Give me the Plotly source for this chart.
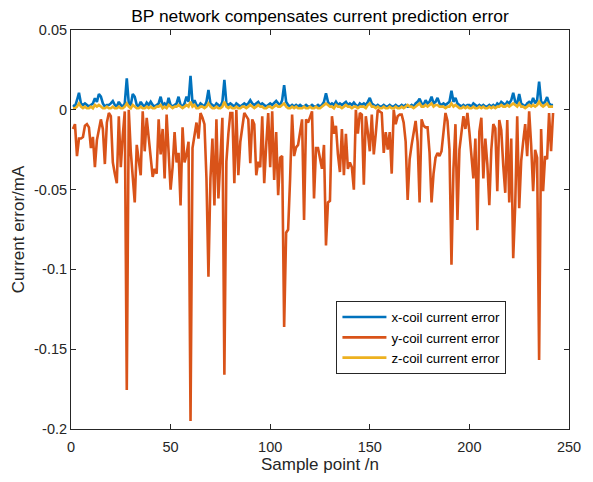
import plotly.graph_objects as go

# Sample index
n = list(range(1, 243))

# x-coil current error (mA)
x_err = [
    0.003, 0.002, 0.006, 0.0107, 0.004, 0.003, 0.004, 0.003, 0.002, 0.003,
    0.004, 0.0072, 0.005, 0.0099, 0.0082, 0.004, 0.002, 0.003, 0.003, 0.004,
    0.0055, 0.003, 0.002, 0.005, 0.003, 0.002, 0.004, 0.0197, 0.004, 0.003,
    0.0099, 0.0082, 0.003, 0.002, 0.005, 0.003, 0.002, 0.0045, 0.003, 0.005,
    0.003, 0.002, 0.003, 0.004, 0.0082, 0.003, 0.004, 0.002, 0.0075, 0.003,
    0.002, 0.003, 0.004, 0.0082, 0.003, 0.002, 0.004, 0.0082, 0.005, 0.0212,
    0.004, 0.006, 0.003, 0.002, 0.004, 0.003, 0.002, 0.005, 0.0124, 0.004,
    0.003, 0.002, 0.004, 0.003, 0.002, 0.005, 0.0187, 0.004, 0.003, 0.004,
    0.003, 0.002, 0.004, 0.003, 0.002, 0.003, 0.004, 0.003, 0.004, 0.006,
    0.004, 0.003, 0.004, 0.005, 0.003, 0.004, 0.003, 0.002, 0.003, 0.004,
    0.003, 0.004, 0.0055, 0.004, 0.003, 0.006, 0.0155, 0.005, 0.003, 0.002,
    0.003, 0.002, 0.003, 0.002, 0.003, 0.002, 0.002, 0.003, 0.002, 0.002,
    0.003, 0.002, 0.002, 0.003, 0.002, 0.003, 0.005, 0.0103, 0.005, 0.003,
    0.004, 0.003, 0.005, 0.003, 0.004, 0.003, 0.004, 0.005, 0.003, 0.004,
    0.003, 0.0045, 0.003, 0.002, 0.004, 0.003, 0.004, 0.003, 0.005, 0.0075,
    0.004, 0.003, 0.002, 0.003, 0.002, 0.002, 0.003, 0.002, 0.002, 0.003,
    0.002, 0.002, 0.003, 0.002, 0.002, 0.003, 0.002, 0.003, 0.002, 0.002,
    0.003, 0.002, 0.004, 0.005, 0.007, 0.004, 0.003, 0.006, 0.004, 0.005,
    0.0082, 0.004, 0.005, 0.0075, 0.004, 0.003, 0.004, 0.003, 0.004, 0.005,
    0.012, 0.005, 0.0075, 0.004, 0.003, 0.002, 0.003, 0.002, 0.003, 0.003,
    0.002, 0.004, 0.003, 0.002, 0.003, 0.002, 0.003, 0.002, 0.002, 0.003,
    0.002, 0.003, 0.002, 0.004, 0.003, 0.005, 0.004, 0.003, 0.005, 0.004,
    0.006, 0.0107, 0.005, 0.004, 0.0099, 0.004, 0.003, 0.002, 0.004, 0.005,
    0.004, 0.0075, 0.004, 0.006, 0.0176, 0.005, 0.004, 0.005, 0.008, 0.004,
    0.003, 0.003,
]

# y-coil current error (mA)
y_err = [
    -0.012, -0.009, -0.029, -0.018, -0.018, -0.017, -0.010, -0.009, -0.011, -0.024,
    -0.017, -0.036, -0.019, -0.012, -0.006, -0.012, -0.034, -0.008, -0.002, -0.004,
    -0.033, -0.040, -0.046, -0.004, -0.036, -0.016, -0.001, -0.1755, 0.000, -0.026,
    -0.040, -0.058, -0.022, -0.030, -0.041, -0.001, -0.026, -0.005, -0.016, -0.030,
    -0.042, -0.037, -0.040, -0.006, -0.028, -0.012, -0.043, -0.003, -0.030, -0.050,
    -0.036, -0.014, -0.033, -0.027, -0.060, -0.011, -0.033, -0.028, -0.020, -0.195,
    -0.024, -0.015, -0.008, -0.018, -0.002, -0.005, -0.009, -0.043, -0.1046, -0.043,
    -0.018, -0.060, -0.006, -0.0555, -0.025, -0.005, -0.166, -0.0325, -0.015, -0.002,
    -0.002, -0.046, 0.000, -0.041, -0.020, -0.012, -0.002, -0.004, -0.006, -0.0335,
    -0.006, -0.009, -0.041, -0.0325, -0.036, -0.004, -0.046, -0.022, -0.002, -0.036,
    -0.001, -0.044, -0.014, -0.0535, -0.030, -0.029, -0.136, -0.077, -0.075, -0.043,
    -0.003, -0.029, -0.0235, -0.022, -0.015, -0.006, -0.069, -0.006, -0.008, -0.004,
    -0.001, -0.0555, -0.024, -0.024, -0.030, -0.037, -0.022, -0.085, -0.058, -0.057,
    -0.004, -0.015, -0.010, -0.028, -0.039, -0.012, -0.041, -0.015, -0.037, -0.033,
    -0.036, -0.050, 0.000, -0.015, -0.002, -0.003, -0.047, -0.004, -0.014, -0.026,
    -0.003, -0.028, -0.015, 0.000, -0.001, -0.002, -0.027, -0.014, -0.025, -0.014,
    -0.040, 0.000, -0.009, -0.004, -0.003, -0.003, -0.008, -0.020, -0.0565, -0.031,
    -0.022, -0.015, -0.007, -0.020, -0.058, -0.006, -0.010, -0.011, -0.011, -0.027,
    -0.058, -0.040, -0.030, -0.027, -0.029, -0.026, -0.012, -0.002, -0.007, -0.025,
    -0.097, -0.037, -0.009, -0.069, -0.025, -0.015, -0.004, -0.012, -0.002, -0.014,
    -0.030, -0.043, -0.018, -0.0754, -0.0137, -0.005, -0.043, -0.018, -0.034, -0.0597,
    -0.025, -0.009, -0.0116, -0.051, -0.0064, -0.0127, -0.035, -0.052, -0.0064, -0.058,
    -0.018, -0.093, -0.060, -0.004, -0.0617, -0.032, -0.020, -0.009, -0.029, -0.001,
    -0.022, -0.051, -0.025, -0.030, -0.1567, -0.012, -0.051, -0.029, -0.031, -0.002,
    -0.026, -0.002,
]

# z-coil current error (mA)
z_err = [
    0.001, 0.001, 0.002, 0.004, 0.002, 0.001, 0.002, 0.001, 0.001, 0.002,
    0.001, 0.003, 0.002, 0.003, 0.002, 0.001, 0.001, 0.002, 0.001, 0.001,
    0.002, 0.001, 0.001, 0.002, 0.001, 0.001, 0.002, 0.004, 0.002, 0.001,
    0.003, 0.002, 0.001, 0.001, 0.002, 0.001, 0.001, 0.002, 0.001, 0.002,
    0.001, 0.001, 0.002, 0.002, 0.003, 0.001, 0.002, 0.001, 0.003, 0.002,
    0.001, 0.002, 0.002, 0.003, 0.002, 0.001, 0.002, 0.003, 0.002, 0.005,
    0.002, 0.003, 0.001, 0.001, 0.002, 0.002, 0.001, 0.002, 0.004, 0.002,
    0.001, 0.001, 0.002, 0.001, 0.001, 0.002, 0.005, 0.002, 0.001, 0.002,
    0.001, 0.001, 0.002, 0.001, 0.001, 0.002, 0.002, 0.001, 0.002, 0.003,
    0.002, 0.001, 0.002, 0.003, 0.002, 0.002, 0.001, 0.001, 0.002, 0.002,
    0.001, 0.002, 0.003, 0.002, 0.002, 0.003, 0.004, 0.002, 0.001, 0.001,
    0.002, 0.001, 0.002, 0.001, 0.001, 0.001, 0.002, 0.001, 0.001, 0.002,
    0.001, 0.001, 0.002, 0.001, 0.001, 0.002, 0.003, 0.004, 0.003, 0.002,
    0.002, 0.001, 0.003, 0.002, 0.002, 0.001, 0.002, 0.003, 0.002, 0.002,
    0.001, 0.002, 0.002, 0.001, 0.002, 0.002, 0.002, 0.001, 0.003, 0.004,
    0.002, 0.002, 0.001, 0.002, 0.001, 0.001, 0.002, 0.001, 0.001, 0.002,
    0.001, 0.001, 0.002, 0.001, 0.001, 0.002, 0.001, 0.002, 0.003, 0.002,
    0.002, 0.001, 0.002, 0.003, 0.004, 0.002, 0.002, 0.003, 0.002, 0.003,
    0.004, 0.002, 0.003, 0.003, 0.002, 0.002, 0.002, 0.001, 0.002, 0.002,
    0.004, 0.002, 0.003, 0.002, 0.001, 0.001, 0.002, 0.001, 0.002, 0.001,
    0.001, 0.002, 0.001, 0.001, 0.002, 0.001, 0.002, 0.001, 0.001, 0.002,
    0.001, 0.002, 0.001, 0.002, 0.002, 0.003, 0.002, 0.002, 0.003, 0.002,
    0.003, 0.004, 0.003, 0.002, 0.004, 0.002, 0.002, 0.001, 0.002, 0.003,
    0.002, 0.003, 0.002, 0.003, 0.005, 0.003, 0.002, 0.003, 0.004, 0.002,
    0.002, 0.002,
]

series_names = ["x-coil current error", "y-coil current error", "z-coil current error"]
series_colors = ["#0072BD", "#D95319", "#EDB120"]

x_ticks = [0, 50, 100, 150, 200, 250]
y_ticks = [-0.2, -0.15, -0.1, -0.05, 0, 0.05]
y_tick_text = ["-0.2", "-0.15", "-0.1", "-0.05", "0", "0.05"]

FONT = "Liberation Sans, Arial, sans-serif"
AXIS_COLOR = "#262626"

fig = go.Figure()
for vals, name, color in zip([x_err, y_err, z_err], series_names, series_colors):
    fig.add_trace(go.Scatter(
        x=n, y=vals, mode="lines", name=name,
        line=dict(color=color, width=2.6),
    ))

axis_common = dict(
    showline=True, mirror="ticks", linecolor=AXIS_COLOR, linewidth=1,
    ticks="inside", ticklen=5, tickcolor=AXIS_COLOR, tickwidth=1,
    showgrid=False, zeroline=False, ticklabeloverflow="allow",
    tickfont=dict(family=FONT, size=14.5, color=AXIS_COLOR),
)

fig.update_layout(
    width=593, height=482,
    margin=dict(l=71, r=12, t=30, b=53),
    paper_bgcolor="white", plot_bgcolor="white",
    font=dict(family=FONT, color=AXIS_COLOR),
    title=dict(
        text="BP network compensates current prediction error",
        x=0.5, xanchor="center", xref="paper", y=0.967, yanchor="middle",
        font=dict(family=FONT, size=17.4, color="#000000"),
    ),
    xaxis=dict(
        range=[0, 250], tickvals=x_ticks, ticklabelstandoff=5,
        title=dict(text="Sample point /n", font=dict(family=FONT, size=17, color=AXIS_COLOR), standoff=3),
        **axis_common,
    ),
    yaxis=dict(
        range=[-0.2, 0.05], tickvals=y_ticks, ticktext=y_tick_text,
        title=dict(text="Current error/mA", font=dict(family=FONT, size=17, color=AXIS_COLOR), standoff=5),
        **axis_common,
    ),
    legend=dict(
        x=0.533, y=0.321, xanchor="left", yanchor="top",
        bgcolor="white", bordercolor=AXIS_COLOR, borderwidth=1,
        font=dict(family=FONT, size=13.3, color="#000000"),
        tracegroupgap=0, itemwidth=44,
    ),
    showlegend=True,
)

fig.write_html("out.html")
